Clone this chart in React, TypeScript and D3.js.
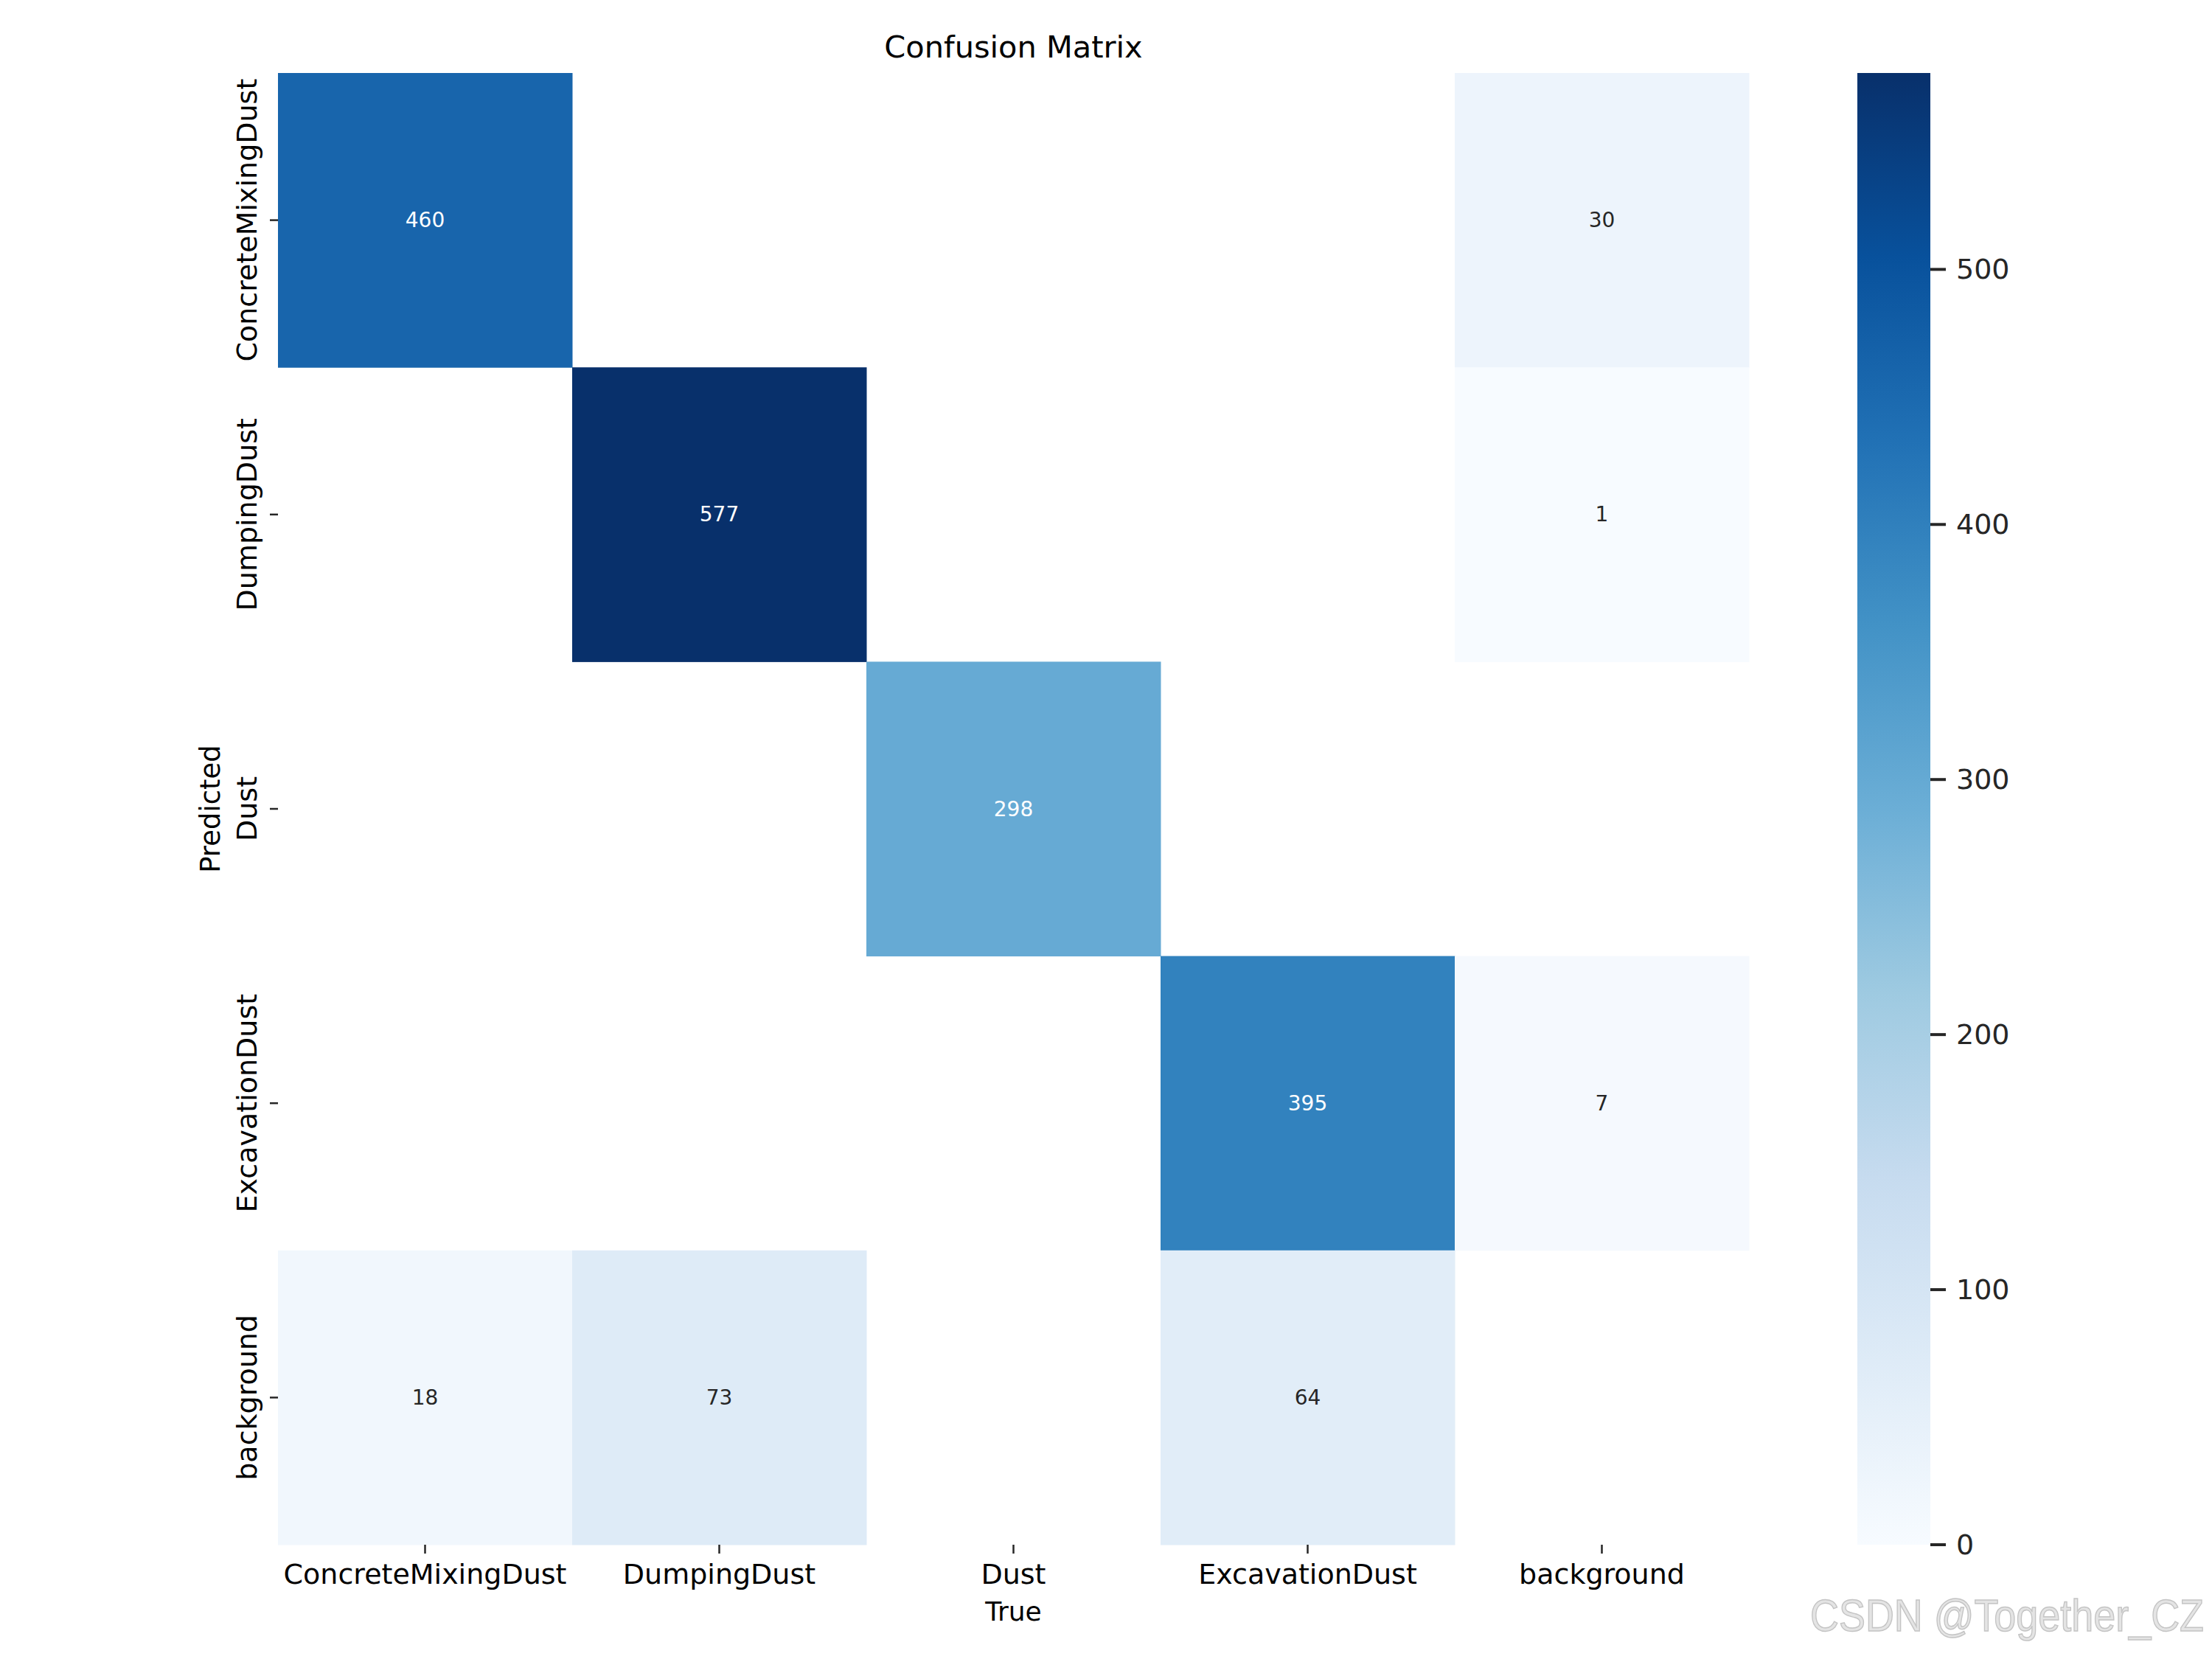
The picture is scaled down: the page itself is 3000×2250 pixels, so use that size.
import React from 'react';
import * as d3 from 'd3';

// class names, true along x and predicted along y
const classes = ['ConcreteMixingDust', 'DumpingDust', 'Dust', 'ExcavationDust', 'background'];

// counts per predicted row, null = empty cell (left white)
const rowConcrete = [460, null, null, null, 30];
const rowDumping = [null, 577, null, null, 1];
const rowDust = [null, null, 298, null, null];
const rowExcavation = [null, null, null, 395, 7];
const rowBackground = [18, 73, null, 64, null];
const matrix: (number | null)[][] = [rowConcrete, rowDumping, rowDust, rowExcavation, rowBackground];

// matplotlib "Blues" control colours
const blues = ['#f7fbff', '#deebf7', '#c6dbef', '#9ecae1', '#6baed6', '#4292c6', '#2171b5', '#08519c', '#08306b'];

const W = 3000;
const H = 2250;
const hm = { left: 377, right: 2372, top: 99, bottom: 2095 };
const cb = { left: 2519, right: 2618 };

const lum = (c: string) => {
  const { r, g, b } = d3.rgb(c);
  const f = (v: number) => {
    const s = v / 255;
    return s <= 0.03928 ? s / 12.92 : Math.pow((s + 0.055) / 1.055, 2.4);
  };
  return 0.2126 * f(r) + 0.7152 * f(g) + 0.0722 * f(b);
};

const App: React.FC = () => {
  const vmax = d3.max(matrix.flat().filter((v): v is number => v !== null)) as number;

  const x = d3.scaleBand<string>().domain(classes).range([hm.left, hm.right]);
  const y = d3.scaleBand<string>().domain(classes).range([hm.top, hm.bottom]);

  const color = d3
    .scaleLinear<string>()
    .domain(blues.map((_, i) => (i / (blues.length - 1)) * vmax))
    .range(blues)
    .interpolate(d3.interpolateRgb);

  const cbY = d3.scaleLinear().domain([0, vmax]).range([hm.bottom, hm.top]);
  const cbTicks = cbY.ticks(6);

  const font = 'DejaVu Sans, sans-serif';
  const midX = (hm.left + hm.right) / 2;
  const midY = (hm.top + hm.bottom) / 2;

  return (
    <svg
      width={W}
      height={H}
      viewBox={`0 0 ${W} ${H}`}
      style={{ position: 'absolute', left: 0, top: 0, background: '#fff' }}
    >
      <defs>
        <linearGradient id="cbGrad" x1="0" y1="1" x2="0" y2="0">
          {blues.map((c, i) => (
            <stop key={i} offset={`${(i / (blues.length - 1)) * 100}%`} stopColor={c} />
          ))}
        </linearGradient>
      </defs>
      <rect width={W} height={H} fill="#fff" />

      {/* cells */}
      {matrix.map((row, ri) =>
        row.map((v, ci) =>
          v === null ? null : (
            <g key={`${ri}-${ci}`}>
              <rect
                x={x(classes[ci])}
                y={y(classes[ri])}
                width={x.bandwidth() + 0.5}
                height={y.bandwidth() + 0.5}
                fill={color(v)}
              />
              <text
                x={(x(classes[ci]) as number) + x.bandwidth() / 2}
                y={(y(classes[ri]) as number) + y.bandwidth() / 2}
                textAnchor="middle"
                dominantBaseline="central"
                fontFamily={font}
                fontSize={28}
                fill={lum(color(v)) > 0.408 ? '#262626' : '#ffffff'}
              >
                {d3.format('.0f')(v)}
              </text>
            </g>
          )
        )
      )}

      {/* x ticks */}
      {classes.map((c) => {
        const cx = (x(c) as number) + x.bandwidth() / 2;
        return (
          <g key={`xt-${c}`}>
            <line x1={cx} x2={cx} y1={hm.bottom} y2={hm.bottom + 12} stroke="#262626" strokeWidth={2.5} />
            <text x={cx} y={2148} textAnchor="middle" fontFamily={font} fontSize={38} fill="#000">
              {c}
            </text>
          </g>
        );
      })}

      {/* y ticks */}
      {classes.map((c) => {
        const cy = (y(c) as number) + y.bandwidth() / 2;
        return (
          <g key={`yt-${c}`}>
            <line x1={hm.left - 11} x2={hm.left} y1={cy} y2={cy} stroke="#262626" strokeWidth={2.5} />
            <text
              transform={`translate(348,${cy}) rotate(-90)`}
              textAnchor="middle"
              fontFamily={font}
              fontSize={38}
              fill="#000"
            >
              {c}
            </text>
          </g>
        );
      })}

      {/* axis labels and title */}
      <text x={midX} y={2198} textAnchor="middle" fontFamily={font} fontSize={36} fill="#000">
        True
      </text>
      <text
        transform={`translate(298,${midY}) rotate(-90)`}
        textAnchor="middle"
        fontFamily={font}
        fontSize={37}
        fill="#000"
      >
        Predicted
      </text>
      <text x={midX} y={78} textAnchor="middle" fontFamily={font} fontSize={41.5} fill="#000">
        Confusion Matrix
      </text>

      {/* colorbar */}
      <rect
        x={cb.left}
        y={hm.top}
        width={cb.right - cb.left}
        height={hm.bottom - hm.top}
        fill="url(#cbGrad)"
      />
      {cbTicks.map((t) => (
        <g key={`cb-${t}`}>
          <line x1={cb.right} x2={cb.right + 21} y1={cbY(t)} y2={cbY(t)} stroke="#262626" strokeWidth={4} />
          <text
            x={cb.right + 35}
            y={cbY(t)}
            dominantBaseline="central"
            fontFamily={font}
            fontSize={38}
            fill="#262626"
          >
            {t}
          </text>
        </g>
      ))}

      {/* watermark */}
      <text
        x={2455}
        y={2212}
        fontFamily="Liberation Sans Narrow, Liberation Sans, sans-serif"
        fontSize={62}
        textLength={534}
        lengthAdjust="spacingAndGlyphs"
        fill="#e4e4e4"
        stroke="#c4c4c4"
        strokeWidth={1.5}
      >
        CSDN @Together_CZ
      </text>
    </svg>
  );
};

export default App;
